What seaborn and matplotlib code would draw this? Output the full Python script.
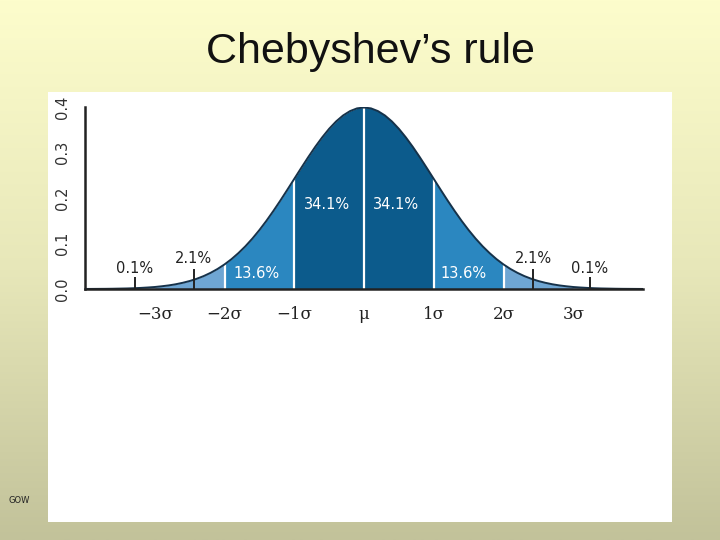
import numpy as np
import pandas as pd
import seaborn as sns
import matplotlib.pyplot as plt
from matplotlib.patches import Rectangle
from matplotlib.colors import LinearSegmentedColormap

# values: density of the curve at steps of 0.1 sigma
sd_x = [round(-4.0 + 0.1 * i, 1) for i in range(81)]
density = [0.0001, 0.0002, 0.0003, 0.0004, 0.0006, 0.0009, 0.0012, 0.0017, 0.0024, 0.0033,
           0.0044, 0.0060, 0.0079, 0.0104, 0.0136, 0.0175, 0.0224, 0.0283, 0.0355, 0.0440,
           0.0540, 0.0656, 0.0790, 0.0940, 0.1109, 0.1295, 0.1497, 0.1714, 0.1942, 0.2179,
           0.2420, 0.2661, 0.2897, 0.3123, 0.3332, 0.3521, 0.3683, 0.3814, 0.3910, 0.3970,
           0.3989,
           0.3970, 0.3910, 0.3814, 0.3683, 0.3521, 0.3332, 0.3123, 0.2897, 0.2661, 0.2420,
           0.2179, 0.1942, 0.1714, 0.1497, 0.1295, 0.1109, 0.0940, 0.0790, 0.0656, 0.0540,
           0.0440, 0.0355, 0.0283, 0.0224, 0.0175, 0.0136, 0.0104, 0.0079, 0.0060, 0.0044,
           0.0033, 0.0024, 0.0017, 0.0012, 0.0009, 0.0006, 0.0004, 0.0003, 0.0002, 0.0001]

band_edges = [-4, -3, -2, -1, 0, 1, 2, 3, 4]
band_colors = ["#a9cbe8", "#6fa6d3", "#2b87c0", "#0c5b8c",
               "#0c5b8c", "#2b87c0", "#6fa6d3", "#a9cbe8"]

tick_pos = [-3, -2, -1, 0, 1, 2, 3]
tick_labels = ["\u22123\u03c3", "\u22122\u03c3", "\u22121\u03c3", "\u03bc",
               "1\u03c3", "2\u03c3", "3\u03c3"]

share_labels = ["0.1%", "2.1%", "13.6%", "34.1%", "34.1%", "13.6%", "2.1%", "0.1%"]
share_x = [-3.29, -2.44, -1.54, -0.53, 0.46, 1.43, 2.43, 3.24]
share_y = [0.044, 0.068, 0.034, 0.185, 0.185, 0.034, 0.068, 0.044]
share_white = [False, False, True, True, True, True, False, False]
pointer_x = [-3.29, -2.44, 2.43, 3.24]
pointer_top = [0.026, 0.043, 0.043, 0.026]

df = pd.DataFrame({"x": sd_x, "pdf": density})

sns.set_style("white")
plt.rcParams["font.family"] = ["DejaVu Sans"]

fig = plt.figure(figsize=(7.2, 5.4), dpi=100)

# slide background gradient
bg = fig.add_axes([0, 0, 1, 1], zorder=0)
grad = np.linspace(0, 1, 256).reshape(-1, 1)
cmap = LinearSegmentedColormap.from_list("slide", ["#fdfdcc", "#e7e7b9", "#c2c29a"])
bg.imshow(grad, aspect="auto", cmap=cmap, extent=[0, 1, 0, 1], origin="upper")
bg.axis("off")

# white panel
fig.patches.append(Rectangle((48 / 720, 18 / 540), 624 / 720, 430 / 540,
                             transform=fig.transFigure, facecolor="white",
                             edgecolor="none", zorder=1))

fig.text(0.514, 0.904, "Chebyshev\u2019s rule", ha="center", va="center",
         fontsize=31, family="Liberation Sans", color="#111111")
fig.text(0.026, 0.074, "GOW", ha="center", va="center", fontsize=6, color="#222222")

ax = fig.add_axes([85 / 720, 251 / 540, 558 / 720, 182 / 540], zorder=2)
ax.patch.set_alpha(0)

xs = df["x"].to_numpy()
ys = df["pdf"].to_numpy()
for lo, hi, col in zip(band_edges[:-1], band_edges[1:], band_colors):
    m = (xs >= lo - 1e-9) & (xs <= hi + 1e-9)
    ax.fill_between(xs[m], 0, ys[m], color=col, linewidth=0, zorder=1)

for b in [-2, -1, 0, 1, 2]:
    ax.vlines(b, 0, df.loc[np.isclose(df["x"], b), "pdf"].iloc[0],
              color="white", linewidth=1.6, zorder=2)

sns.lineplot(data=df, x="x", y="pdf", color="#16324a", linewidth=1.4, ax=ax, zorder=3)

for px, pt in zip(pointer_x, pointer_top):
    ax.vlines(px, 0, pt, color="#222222", linewidth=1.4, zorder=3)

for lab, tx, ty, w in zip(share_labels, share_x, share_y, share_white):
    ax.text(tx, ty, lab, ha="center", va="center", fontsize=10.5,
            color="white" if w else "#222222", zorder=4)

ax.set_xlim(-4, 4)
ax.set_ylim(0, 0.4)
ax.set_xticks(tick_pos)
ax.set_xticklabels(tick_labels, family="DejaVu Serif", fontsize=12)
ax.set_yticks([0.0, 0.1, 0.2, 0.3, 0.4])
ax.set_yticklabels(["0.0", "0.1", "0.2", "0.3", "0.4"], rotation=90,
                   va="center", fontsize=10.5, color="#333333")
ax.set_xlabel("")
ax.set_ylabel("")
ax.tick_params(axis="x", direction="out", length=7, width=1.3, pad=5, colors="#222222")
ax.tick_params(axis="y", direction="out", length=6, width=1.3, pad=5)
sns.despine(ax=ax)
for s in ["left", "bottom"]:
    ax.spines[s].set_linewidth(1.8)
    ax.spines[s].set_color("#222222")
ax.spines["bottom"].set_zorder(5)

fig.savefig("out.png", dpi=100)
